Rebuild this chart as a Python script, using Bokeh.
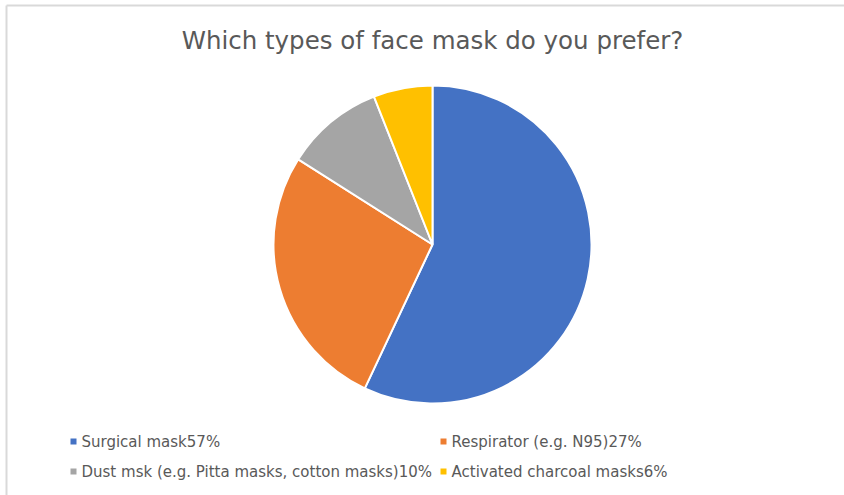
import numpy as np
from bokeh.plotting import figure
from bokeh.models import Range1d, ColumnDataSource
from bokeh.core.properties import value
from bokeh.embed import file_html
from bokeh.resources import INLINE

# ---- data ----
title = "Which types of face mask do you prefer?"
categories = ["Surgical mask", "Respirator (e.g. N95)",
              "Dust msk (e.g. Pitta masks, cotton masks)", "Activated charcoal masks"]
percents = [57, 27, 10, 6]
colors = ["#4472C4", "#ED7D31", "#A5A5A5", "#FFC000"]

W, H = 844, 495
p = figure(width=W, height=H, output_backend="svg", toolbar_location=None,
           x_range=Range1d(0, W), y_range=Range1d(0, H), min_border=0,
           outline_line_color=None, background_fill_color="white",
           border_fill_color="white")
p.axis.visible = False
p.grid.visible = False

# frame border (top and left edges visible)
p.segment(x0=[6, 6], y0=[H - 5, H - 5], x1=[W, 6], y1=[H - 5, 0],
          line_color="#D9D9D9", line_width=2)

# title
p.text(x=[432], y=[H - 40], text=[title], text_align="center", text_baseline="middle",
       text_font=value("DejaVu Sans"), text_font_size="24.5px", text_color="#595959")

# pie
vals = np.array(percents, dtype=float)
fr = vals / vals.sum()
cum = np.concatenate([[0], np.cumsum(fr)])
start = np.pi / 2 - cum[:-1] * 2 * np.pi
end = np.pi / 2 - cum[1:] * 2 * np.pi
src = ColumnDataSource(dict(start=start, end=end, color=colors))
p.wedge(x=432, y=H - 244, radius=159, start_angle="start", end_angle="end",
        direction="clock", fill_color="color", line_color="white", line_width=2,
        source=src)

# legend (2 columns x 2 rows)
col_x = [73, 443]
row_y = [H - 441, H - 471]
lx, ly, labels = [], [], []
for i, (c, v) in enumerate(zip(categories, percents)):
    lx.append(col_x[i % 2])
    ly.append(row_y[i // 2])
    labels.append(f"{c}{v}%")
p.rect(x=lx, y=ly, width=6, height=6, fill_color=colors, line_color=None)
p.text(x=[x + 8 for x in lx], y=ly, text=labels, text_align="left", text_baseline="middle",
       text_font=value("DejaVu Sans"), text_font_size="15px", text_color="#595959")

open("out.html", "w").write(file_html(p, INLINE))
